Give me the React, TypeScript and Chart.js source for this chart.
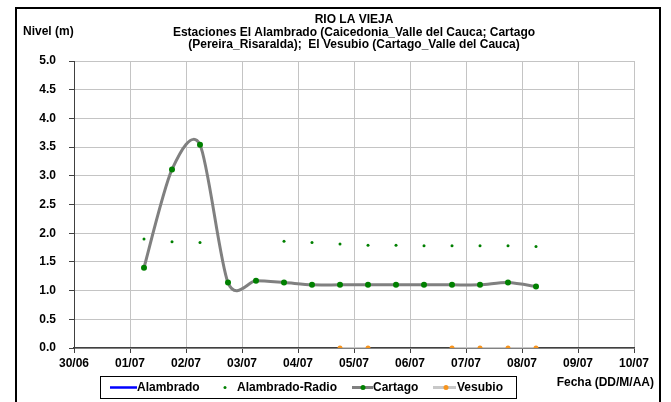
import React, { useEffect, useRef } from "react";
import { Chart, registerables } from "chart.js";

Chart.register(...registerables);

const tickLabels = ["30/06", "01/07", "02/07", "03/07", "04/07", "05/07", "06/07", "07/07", "08/07", "09/07", "10/07"];

const times = [
  "01/07 06:00", "01/07 18:00", "02/07 06:00", "02/07 18:00", "03/07 06:00",
  "03/07 18:00", "04/07 06:00", "04/07 18:00", "05/07 06:00", "05/07 18:00",
  "06/07 06:00", "06/07 18:00", "07/07 06:00", "07/07 18:00", "08/07 06:00",
];

const cartago = [1.40, 3.11, 3.54, 1.14, 1.17, 1.14, 1.10, 1.10, 1.10, 1.10, 1.10, 1.10, 1.10, 1.14, 1.07];
const alambradoRadio = [1.90, 1.85, 1.84, null, null, 1.86, 1.84, 1.81, 1.79, 1.79, 1.78, 1.78, 1.78, 1.78, 1.77];
const vesubio = [null, null, null, null, null, null, null, 0, 0, null, null, 0, 0, 0, 0];
const alambrado: (number | null)[] = times.map(() => null);

const titleLines = [
  "RIO LA VIEJA",
  "Estaciones El Alambrado (Caicedonia_Valle del Cauca; Cartago",
  "(Pereira_Risaralda);  El Vesubio (Cartago_Valle del Cauca)",
];

function toDay(t: string): number {
  const [d, h] = t.split(" ");
  const [dd, mm] = d.split("/").map(Number);
  const [hh, mi] = h.split(":").map(Number);
  const day = mm === 6 ? dd - 30 : dd;
  return day + (hh + mi / 60) / 24;
}

function pts(vals: (number | null)[]) {
  return vals.map((v, i) => ({ x: toDay(times[i]), y: v }));
}

const FAMILY = "'Liberation Sans', Arial, sans-serif";
const FONT = `bold 12px ${FAMILY}`;

// Excel-like smoothing (Catmull-Rom style) for the Cartago line
const smoothPlugin = {
  id: "excelSmooth",
  beforeDatasetsDraw(chart: any) {
    const meta = chart.getDatasetMeta(2);
    const line = meta.dataset;
    const points = meta.data;
    const n = points.length;
    const k = 7;
    for (let i = 0; i < n; i++) {
      const p = points[i];
      const prev = points[Math.max(0, i - 1)];
      const next = points[Math.min(n - 1, i + 1)];
      const dx = (next.x - prev.x) / k;
      const dy = (next.y - prev.y) / k;
      p.cp1x = p.x - dx;
      p.cp1y = p.y - dy;
      p.cp2x = p.x + dx;
      p.cp2y = p.y + dy;
    }
    if (line) {
      line._pointsUpdated = true;
      line._path = undefined;
    }
  },
};

const decorPlugin = {
  id: "decor",
  beforeDraw(chart: any) {
    const ctx = chart.ctx;
    ctx.save();
    ctx.fillStyle = "#ffffff";
    ctx.fillRect(0, 0, chart.width, chart.height);
    ctx.restore();
  },
  afterDraw(chart: any) {
    const ctx = chart.ctx;
    const area = chart.chartArea;
    ctx.save();
    // frame
    ctx.strokeStyle = "#000";
    ctx.lineWidth = 2;
    ctx.beginPath();
    ctx.moveTo(16, 420);
    ctx.lineTo(16, 8);
    ctx.lineTo(660, 8);
    ctx.lineTo(660, 420);
    ctx.stroke();

    ctx.fillStyle = "#000";
    ctx.font = FONT;
    ctx.textBaseline = "middle";
    ctx.textAlign = "center";
    const cx = (area.left + area.right) / 2;
    const ys = [20, 33, 45];
    titleLines.forEach((t, i) => ctx.fillText(t, cx, ys[i]));

    ctx.textAlign = "left";
    ctx.fillText("Nivel (m)", 23, 32);
    ctx.textAlign = "right";
    ctx.fillText("Fecha (DD/M/AA)", 654, 383);
    ctx.textAlign = "left";

    // legend
    ctx.strokeStyle = "#000";
    ctx.lineWidth = 1;
    ctx.strokeRect(100.5, 376.5, 416, 22);
    const ly = 387.5;
    ctx.lineWidth = 2.5;
    ctx.strokeStyle = "#0000ff";
    ctx.beginPath();
    ctx.moveTo(110, ly);
    ctx.lineTo(137, ly);
    ctx.stroke();
    ctx.fillText("Alambrado", 137, ly);

    ctx.fillStyle = "#008000";
    ctx.beginPath();
    ctx.arc(225, ly, 1.5, 0, Math.PI * 2);
    ctx.fill();
    ctx.fillStyle = "#000";
    ctx.fillText("Alambrado-Radio", 237, ly);

    ctx.lineWidth = 3;
    ctx.strokeStyle = "#808080";
    ctx.beginPath();
    ctx.moveTo(352, ly);
    ctx.lineTo(373, ly);
    ctx.stroke();
    ctx.fillStyle = "#008000";
    ctx.beginPath();
    ctx.arc(363, ly, 2.5, 0, Math.PI * 2);
    ctx.fill();
    ctx.fillStyle = "#000";
    ctx.fillText("Cartago", 373, ly);

    ctx.strokeStyle = "#c8c8c8";
    ctx.beginPath();
    ctx.moveTo(433, ly);
    ctx.lineTo(456, ly);
    ctx.stroke();
    ctx.fillStyle = "#f7941d";
    ctx.beginPath();
    ctx.arc(446, ly, 2.5, 0, Math.PI * 2);
    ctx.fill();
    ctx.fillStyle = "#000";
    ctx.fillText("Vesubio", 457, ly);
    ctx.restore();
  },
};

export default function App() {
  const ref = useRef<HTMLCanvasElement>(null);
  useEffect(() => {
    if (!ref.current) return;
    const chart = new Chart(ref.current, {
      type: "line",
      data: {
        datasets: [
          {
            label: "Alambrado",
            data: pts(alambrado),
            borderColor: "#0000ff",
            borderWidth: 2.5,
            pointRadius: 0,
          },
          {
            label: "Alambrado-Radio",
            data: pts(alambradoRadio),
            showLine: false,
            pointRadius: 1.5,
            pointBackgroundColor: "#008000",
            pointBorderColor: "#008000",
            pointBorderWidth: 0,
          },
          {
            label: "Cartago",
            data: pts(cartago),
            borderColor: "#808080",
            borderWidth: 3,
            tension: 0.4,
            pointRadius: 3,
            pointBackgroundColor: "#008000",
            pointBorderColor: "#008000",
            pointBorderWidth: 0,
          },
          {
            label: "Vesubio",
            data: pts(vesubio),
            borderColor: "#c8c8c8",
            borderWidth: 2,
            spanGaps: false,
            pointRadius: 2.5,
            pointBackgroundColor: "#f7941d",
            pointBorderColor: "#f7941d",
            pointBorderWidth: 0,
          },
        ],
      },
      options: {
        animation: false,
        responsive: false,
        maintainAspectRatio: false,
        layout: { padding: { left: 0, top: 61, right: 37, bottom: 0 } },
        plugins: { legend: { display: false }, title: { display: false }, tooltip: { enabled: false } },
        scales: {
          x: {
            type: "linear",
            min: 0,
            max: 10,
            afterFit: (s: any) => {
              s.height = 54;
              s.paddingLeft = 0;
              s.paddingRight = 0;
            },
            ticks: {
              stepSize: 1,
              autoSkip: false,
              maxRotation: 0,
              padding: 3,
              color: "#000",
              font: { family: FAMILY, size: 12, weight: "bold" },
              callback: (v: any) => tickLabels[Math.round(Number(v))] ?? "",
            },
            grid: { color: "#c4c4c4", lineWidth: 1, tickLength: 5, tickColor: "#404040" },
            border: { color: "#404040", width: 1.5 },
          },
          y: {
            min: 0,
            max: 5,
            afterFit: (s: any) => {
              s.width = 74;
              s.paddingTop = 0;
              s.paddingBottom = 0;
            },
            ticks: {
              stepSize: 0.5,
              padding: 13,
              color: "#000",
              font: { family: FAMILY, size: 12, weight: "bold" },
              callback: (v: any) => Number(v).toFixed(1),
            },
            grid: { color: "#c4c4c4", lineWidth: 1, tickLength: 5, tickColor: "#404040" },
            border: { color: "#404040", width: 1 },
          },
        },
      },
      plugins: [decorPlugin, smoothPlugin],
    } as any);
    return () => chart.destroy();
  }, []);
  return (
    <div style={{ position: "absolute", left: 0, top: 0, width: 671, height: 402 }}>
      <canvas ref={ref} width={671} height={402} style={{ width: 671, height: 402, display: "block" }} />
    </div>
  );
}
